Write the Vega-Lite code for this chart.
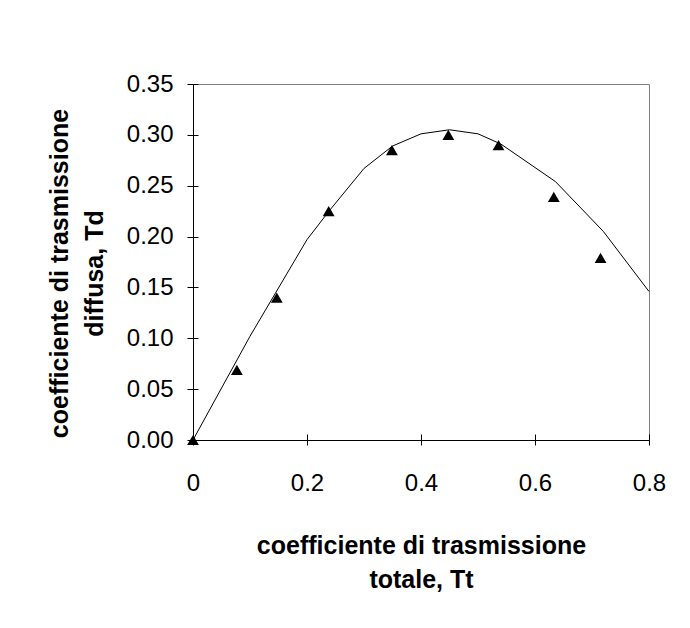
{
  "$schema": "https://vega.github.io/schema/vega-lite/v6.json",
  "autosize": {"type": "none"},
  "padding": {"left": 193, "top": 84, "right": 41, "bottom": 188},
  "width": 456,
  "height": 356,
  "background": "white",
  "config": {
    "view": {"stroke": "#808080", "strokeWidth": 1},
    "font": "Liberation Sans"
  },
  "datasets": {
    "curve": [
      {"Tt": 0.0, "Td": 0.0},
      {"Tt": 0.1, "Td": 0.102},
      {"Tt": 0.2, "Td": 0.197},
      {"Tt": 0.24, "Td": 0.226},
      {"Tt": 0.3, "Td": 0.267},
      {"Tt": 0.35, "Td": 0.289},
      {"Tt": 0.4, "Td": 0.301},
      {"Tt": 0.45, "Td": 0.305},
      {"Tt": 0.5, "Td": 0.301},
      {"Tt": 0.54, "Td": 0.291},
      {"Tt": 0.636, "Td": 0.254},
      {"Tt": 0.72, "Td": 0.205},
      {"Tt": 0.8, "Td": 0.146}
    ],
    "meas": [
      {"Tt": 0.0, "Td": 0.0},
      {"Tt": 0.077, "Td": 0.069},
      {"Tt": 0.147, "Td": 0.14},
      {"Tt": 0.238, "Td": 0.225},
      {"Tt": 0.349, "Td": 0.285},
      {"Tt": 0.448, "Td": 0.3},
      {"Tt": 0.536, "Td": 0.29},
      {"Tt": 0.633, "Td": 0.239},
      {"Tt": 0.715, "Td": 0.179}
    ]
  },
  "layer": [
    {
      "data": {"name": "curve"},
      "mark": {"type": "line", "color": "black", "strokeWidth": 1},
      "encoding": {
        "x": {
          "field": "Tt", "type": "quantitative",
          "scale": {"domain": [0, 0.8], "nice": false, "zero": true},
          "axis": {
            "orient": "bottom",
            "values": [0, 0.2, 0.4, 0.6, 0.8],
            "format": "~f",
            "grid": false,
            "domainColor": "black",
            "tickColor": "black",
            "tickSize": 5,
            "labelFlush": false,
            "labelOverlap": false,
            "labelFont": "Liberation Sans",
            "labelFontSize": 24,
            "labelColor": "black",
            "labelPadding": 26,
            "title": ["coefficiente di trasmissione", "totale, Tt"],
            "titleFont": "Liberation Sans",
            "titleFontSize": 25,
            "titleFontWeight": "bold",
            "titleColor": "black",
            "titleLineHeight": 34,
            "titlePadding": 38
          }
        },
        "y": {
          "field": "Td", "type": "quantitative",
          "scale": {"domain": [0, 0.35], "nice": false, "zero": true},
          "axis": {
            "orient": "left",
            "values": [0, 0.05, 0.1, 0.15, 0.2, 0.25, 0.3, 0.35],
            "format": ".2f",
            "grid": false,
            "domainColor": "black",
            "tickColor": "black",
            "tickSize": 6,
            "labelFlush": false,
            "labelOverlap": false,
            "labelFont": "Liberation Sans",
            "labelFontSize": 24,
            "labelColor": "black",
            "labelPadding": 14,
            "title": ["coefficiente di trasmissione", "diffusa, Td"],
            "titleFont": "Liberation Sans",
            "titleFontSize": 25,
            "titleFontWeight": "bold",
            "titleColor": "black",
            "titleLineHeight": 35,
            "titlePadding": 19,
            "titleY": 189
          }
        }
      }
    },
    {
      "data": {"name": "meas"},
      "mark": {"type": "point", "shape": "triangle-up", "filled": true, "color": "black", "size": 140, "opacity": 1},
      "encoding": {
        "x": {
          "field": "Tt", "type": "quantitative",
          "axis": {
            "orient": "bottom",
            "values": [0, 0.2, 0.4, 0.6, 0.8],
            "grid": false,
            "domain": false,
            "labels": false,
            "title": null,
            "tickColor": "black",
            "tickSize": -6
          }
        },
        "y": {
          "field": "Td", "type": "quantitative",
          "axis": {
            "orient": "left",
            "values": [0, 0.05, 0.1, 0.15, 0.2, 0.25, 0.3, 0.35],
            "grid": false,
            "domain": false,
            "labels": false,
            "title": null,
            "tickColor": "black",
            "tickSize": -5
          }
        }
      }
    }
  ],
  "resolve": {"axis": {"x": "independent", "y": "independent"}}
}
